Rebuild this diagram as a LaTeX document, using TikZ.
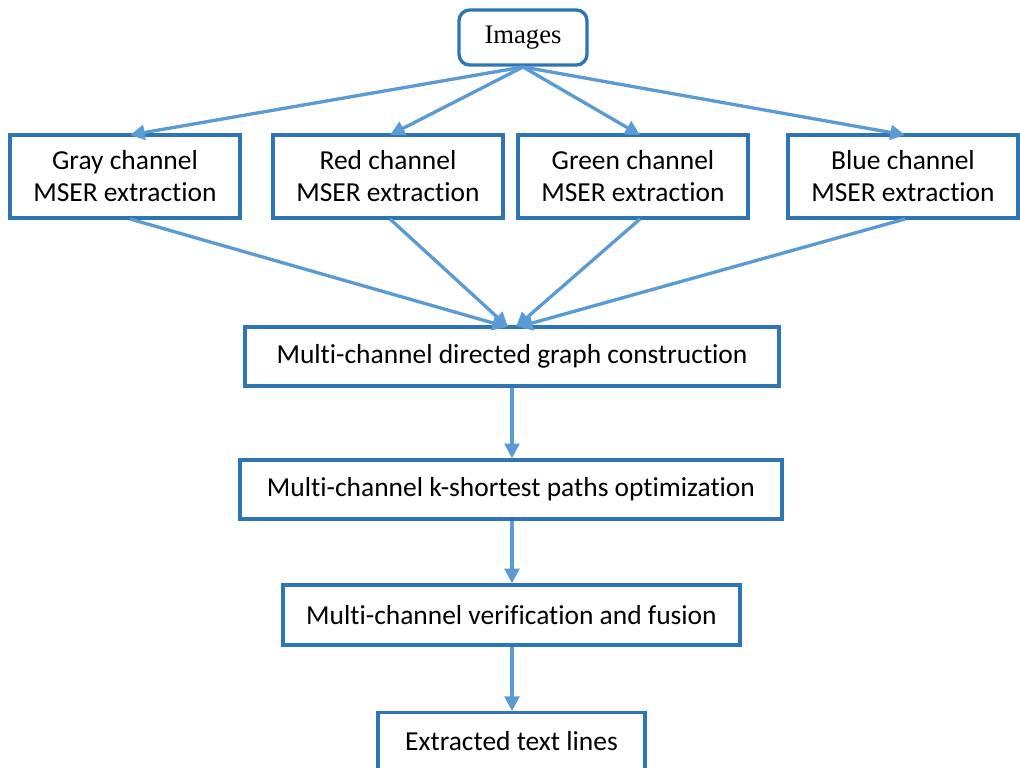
\documentclass[tikz,border=0pt]{standalone}
\usepackage{fontspec}
\setmainfont{Carlito}[RawFeature=-liga]
\newfontfamily\timesfont{Liberation Serif}
\usetikzlibrary{arrows.meta}
\definecolor{boxblue}{HTML}{2E75B6}
\definecolor{arrblue}{HTML}{5B9BD5}
\begin{document}
\begin{tikzpicture}[x=0.75pt,y=-0.75pt,
  box/.style={draw=boxblue,line width=2.5pt,fill=white,inner sep=0pt,font=\fontsize{20.6}{24}\selectfont,align=center},
  conn/.style={draw=arrblue,line width=2.5pt,-{Triangle[length=11pt,width=11pt]}}]
\useasboundingbox (0,0) rectangle (1020,767);
\node[box,rounded corners=8pt,minimum width=128*0.75pt,minimum height=55*0.75pt,font=\timesfont\fontsize{20}{24}\selectfont] (img) at (523,37.5) {Images};
\node[box,minimum width=230*0.75pt,minimum height=83*0.75pt] (gray) at (125,176.5) {Gray channel\\MSER extraction};
\node[box,minimum width=230*0.75pt,minimum height=83*0.75pt] (red) at (388,176.5) {Red channel\\MSER extraction};
\node[box,minimum width=230*0.75pt,minimum height=83*0.75pt] (green) at (633,176.5) {Green channel\\MSER extraction};
\node[box,minimum width=230*0.75pt,minimum height=83*0.75pt] (blue) at (903,176.5) {Blue channel\\MSER extraction};
\node[box,minimum width=534*0.75pt,minimum height=59*0.75pt] (graph) at (512,356.5) {Multi-channel directed graph construction};
\node[box,minimum width=542*0.75pt,minimum height=59*0.75pt] (ksp) at (511,489.5) {Multi-channel k-shortest paths optimization};
\node[box,minimum width=457*0.75pt,minimum height=60*0.75pt] (ver) at (511.5,615) {Multi-channel verification and fusion};
\node[box,minimum width=267*0.75pt,minimum height=70*0.75pt,anchor=north] (ext) at (511.5,711) {};
\node[font=\fontsize{20.6}{24}\selectfont] (extt) at (511.5,741) {Extracted text lines};
\coordinate (src) at (523,67);
\coordinate (g1) at (130,135);
\coordinate (g2) at (390,135);
\coordinate (g3) at (640,135);
\coordinate (g4) at (905,135);
\coordinate (s1) at (130,219);
\coordinate (s2) at (390,219);
\coordinate (s3) at (640,219);
\coordinate (s4) at (905,219);
\coordinate (t1) at (507,327);
\coordinate (t2) at (508,327);
\coordinate (t3) at (516,327);
\coordinate (t4) at (518,327);
\draw[conn] (src) -- (g1);
\draw[conn] (src) -- (g2);
\draw[conn] (src) -- (g3);
\draw[conn] (src) -- (g4);
\draw[conn] (s1) -- (t1);
\draw[conn] (s2) -- (t2);
\draw[conn] (s3) -- (t3);
\draw[conn] (s4) -- (t4);
\draw[conn] (graph.south -| 512,0) -- (ksp.north -| 512,0);
\draw[conn] (ksp.south -| 512,0) -- (ver.north -| 512,0);
\draw[conn] (ver.south -| 512,0) -- (ext.north -| 512,0);
\end{tikzpicture}
\end{document}
